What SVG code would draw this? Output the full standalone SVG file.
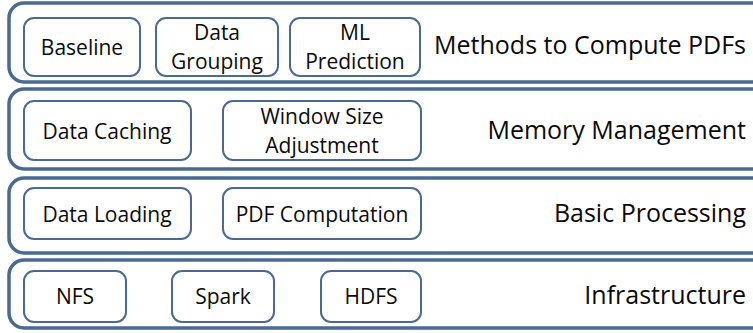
<svg xmlns="http://www.w3.org/2000/svg" width="753" height="333" viewBox="0 0 753 333">
  <style>
    .layer { fill: #ffffff; stroke: #4a6a92; stroke-width: 3.5; }
    .box { fill: #ffffff; stroke: #4a6a92; stroke-width: 2; }
    .t { font-family: "Open Sans", "Liberation Sans", sans-serif; font-size: 21px; fill: #0a0a0a; text-anchor: middle; }
    .lbl { font-family: "Open Sans", "Liberation Sans", sans-serif; font-size: 25px; fill: #0a0a0a; text-anchor: end; }
  </style>
  <rect width="753" height="333" fill="#ffffff"/>

  <!-- Layer: Methods to Compute PDFs -->
  <g id="layer-methods">
    <rect class="layer" x="9" y="3" width="760" height="79" rx="15"/>
    <text class="lbl" x="746" y="54">Methods to Compute PDFs</text>
  </g>
  <g id="baseline">
    <rect class="box" x="24" y="18" width="116" height="58" rx="10"/>
    <text class="t" x="82" y="55">Baseline</text>
  </g>
  <g id="data-grouping">
    <rect class="box" x="156" y="18" width="122" height="58" rx="10"/>
    <text class="t" x="217" y="40">Data</text>
    <text class="t" x="217" y="69">Grouping</text>
  </g>
  <g id="ml-prediction">
    <rect class="box" x="290" y="18" width="130" height="58" rx="10"/>
    <text class="t" x="355" y="40">ML</text>
    <text class="t" x="355" y="69">Prediction</text>
  </g>

  <!-- Layer: Memory Management -->
  <g id="layer-memory">
    <rect class="layer" x="9" y="89" width="760" height="80" rx="15"/>
    <text class="lbl" x="746" y="139">Memory Management</text>
  </g>
  <g id="data-caching">
    <rect class="box" x="24" y="101" width="167" height="59" rx="10"/>
    <text class="t" x="107" y="139">Data Caching</text>
  </g>
  <g id="window-size">
    <rect class="box" x="223" y="101" width="198" height="59" rx="10"/>
    <text class="t" x="322" y="124">Window Size</text>
    <text class="t" x="322" y="153">Adjustment</text>
  </g>

  <!-- Layer: Basic Processing -->
  <g id="layer-basic">
    <rect class="layer" x="9" y="178" width="760" height="75" rx="15"/>
    <text class="lbl" x="746" y="222">Basic Processing</text>
  </g>
  <g id="data-loading">
    <rect class="box" x="24" y="188" width="167" height="51" rx="10"/>
    <text class="t" x="107" y="222">Data Loading</text>
  </g>
  <g id="pdf-computation">
    <rect class="box" x="223" y="188" width="198" height="51" rx="10"/>
    <text class="t" x="322" y="222">PDF Computation</text>
  </g>

  <!-- Layer: Infrastructure -->
  <g id="layer-infra">
    <rect class="layer" x="9" y="260" width="760" height="68" rx="15"/>
    <text class="lbl" x="746" y="304">Infrastructure</text>
  </g>
  <g id="nfs">
    <rect class="box" x="24" y="271" width="102" height="51" rx="10"/>
    <text class="t" x="75" y="304">NFS</text>
  </g>
  <g id="spark">
    <rect class="box" x="172" y="271" width="102" height="51" rx="10"/>
    <text class="t" x="223" y="304">Spark</text>
  </g>
  <g id="hdfs">
    <rect class="box" x="321" y="271" width="100" height="51" rx="10"/>
    <text class="t" x="371" y="304">HDFS</text>
  </g>

  <g id="connectors"/>
</svg>
